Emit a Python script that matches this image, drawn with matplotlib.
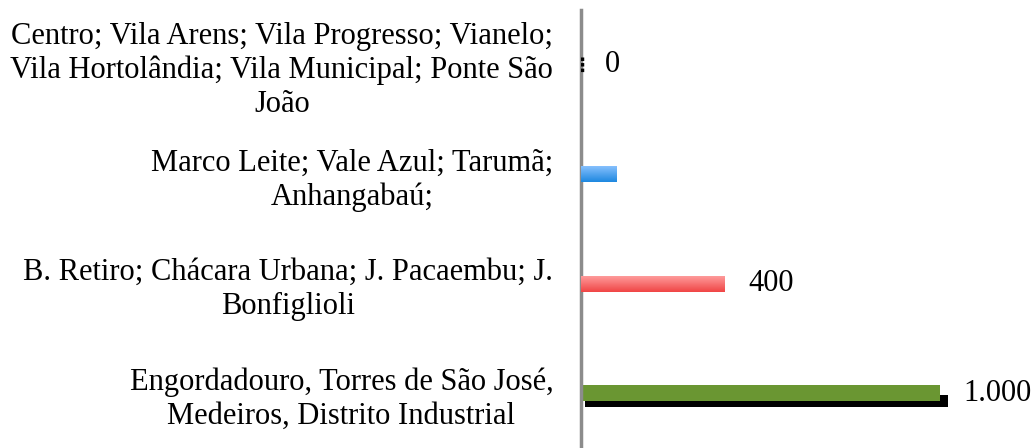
import numpy as np
import matplotlib.pyplot as plt
from matplotlib.colors import LinearSegmentedColormap
from matplotlib import transforms

categories = [
    'Centro; Vila Arens; Vila Progresso; Vianelo;\nVila Hortolândia; Vila Municipal; Ponte São\nJoão',
    'Marco Leite; Vale Azul; Tarumã;\nAnhangabaú;',
    'B. Retiro; Chácara Urbana; J. Pacaembu; J.\nBonfiglioli',
    'Engordadouro, Torres de São José,\nMedeiros, Distrito Industrial',
]
values = [0, 100, 400, 1000]
value_labels = ['0', '', '400', '1.000']

plt.rcParams['font.family'] = ['Liberation Serif', 'DejaVu Serif']

fig = plt.figure(figsize=(10.34, 4.48), dpi=100)
ax = fig.add_axes([581 / 1034, 0.0, (1012 - 581) / 1034, 438 / 448])

y = np.arange(len(categories))
h = 0.15

# gradient fills: (top colour, bottom colour) or flat colour
fills = [
    ('#8cc3ff', '#1e88e0'),
    ('#8cc3ff', '#1e88e0'),
    ('#ffa0a0', '#f04545'),
    ('#6a9632', '#6a9632'),
]

for i, (v, c) in enumerate(zip(values, fills)):
    if i == len(values) - 1:
        # dark drop shadow under the green bar
        shadow = transforms.offset_copy(ax.transData, fig=fig, x=4, y=-8, units='dots')
        ax.barh(y[i], v + 10, height=h * 0.75, color='black', transform=shadow, zorder=1)
    bars = ax.barh(y[i], v, height=h, color=c[1], zorder=2)
    if v > 0 and c[0] != c[1]:
        cmap = LinearSegmentedColormap.from_list('g', [c[0], c[1]])
        grad = np.linspace(0, 1, 64).reshape(-1, 1)
        im = ax.imshow(grad, cmap=cmap, aspect='auto', zorder=3,
                       extent=[0, v, y[i] + h / 2, y[i] - h / 2])
        im.set_clip_path(bars[0])
    if value_labels[i]:
        ax.annotate(value_labels[i], (v, y[i]), xytext=(17, 0), textcoords='offset points',
                    ha='left', va='center', fontsize=22, color='black')

# tiny marker for the zero bar
ax.plot([3, 3], [y[0] - 0.07, y[0] + 0.07], color='black', lw=2.5, ls=(0, (1, 0.6)), zorder=3)

ax.set_xlim(0, 1200)
ax.set_ylim(len(categories) - 0.5, -0.5)
ax.set_yticks(y)
ax.set_yticklabels(categories, fontsize=22, multialignment='center', linespacing=1.2)
ax.tick_params(axis='y', length=0, pad=20)
ax.set_xticks([])
for s in ['top', 'right', 'bottom']:
    ax.spines[s].set_visible(False)
ax.spines['left'].set_color('#8c8c8c')
ax.spines['left'].set_linewidth(2.5)

fig.savefig('out.png', dpi=100)
